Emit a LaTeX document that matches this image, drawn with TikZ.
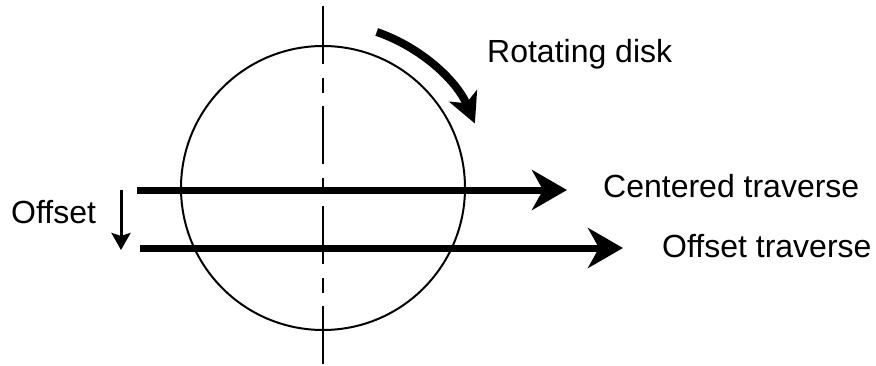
\documentclass[tikz,border=0pt]{standalone}
\usepackage{fontspec}
\setmainfont{Liberation Sans}
\usetikzlibrary{arrows.meta,positioning,calc}

\begin{document}
\begin{tikzpicture}[x=1pt,y=1pt,
  lbl/.style={font=\fontsize{32}{38}\selectfont,inner sep=0pt,anchor=base west},
  trav/.style={line width=7pt,-{Stealth[length=35pt,width=40pt,inset=11pt]}}]
\useasboundingbox (0,0) rectangle (876,365);
% disk and its axis
\coordinate (c) at (323,177);
\draw[line width=2pt] (c) circle (142);
\coordinate (axtop) at (323,359);
\coordinate (axbot) at (323,0);
\draw[line width=2.7pt,dash pattern=on 58pt off 14pt on 15pt off 13pt] (axtop) -- (axbot);
% rotation
\draw[line width=8pt,-{Stealth[length=30pt,width=30pt,inset=8pt]}]
  ($(c)+(71:165)$) arc[start angle=71,end angle=23,radius=165];
\node[lbl] (rot) at (487,302) {Rotating disk};
% traverses
\coordinate (cts) at (137,175);
\coordinate (cte) at (567,175);
\coordinate (ots) at (140,117);
\coordinate (ote) at (623,117);
\draw[trav] (cts) -- (cte);
\draw[trav] (ots) -- (ote);
\node[lbl] (ctl) at (603,168) {Centered traverse};
\node[lbl] (otl) at (662,108) {Offset traverse};
% offset
\coordinate (offa) at (121,175);
\coordinate (offb) at (121,115);
\draw[line width=3pt,-{Stealth[length=17pt,width=19pt,inset=3pt]}] (offa) -- (offb);
\node[lbl] (offl) at (11,142) {Offset};
\end{tikzpicture}
\end{document}
